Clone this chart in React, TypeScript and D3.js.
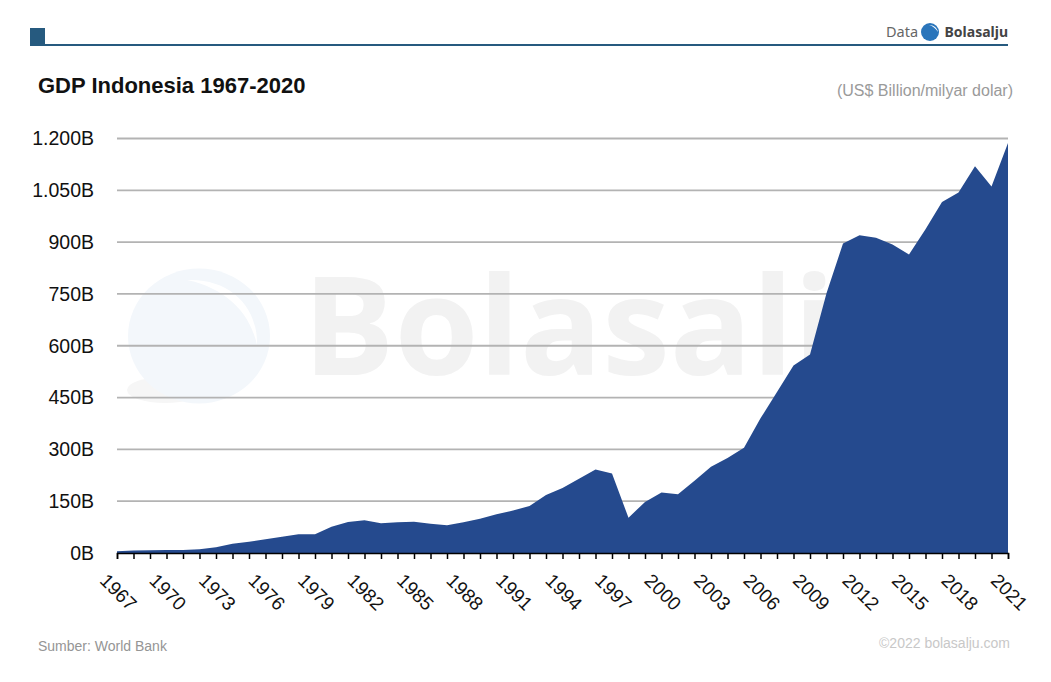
import * as d3 from "d3";
import * as React from "react";
import { useEffect, useRef } from "react";

const years = d3.range(1967, 2022);
const gdpValues = [
  5, 7, 8, 9, 9, 10.6, 16.4, 27, 32.8, 39.5, 47, 54, 54, 76, 90, 95, 86, 89, 90.6, 84.8,
  80, 88.7, 99, 112, 123, 136, 168, 188, 215, 242, 230, 102, 148, 175, 170, 209, 250, 275,
  304.5, 390, 466, 543, 574.6, 752, 896, 920, 913, 893, 864, 937, 1016, 1044, 1120, 1061, 1187,
];
const yTickValues = [0, 150, 300, 450, 600, 750, 900, 1050, 1200];
const yTickLabels = ["0B", "150B", "300B", "450B", "600B", "750B", "900B", "1.050B", "1.200B"];

const WIDTH = 1051;
const HEIGHT = 682;
const margin = { top: 138.5, right: 43, bottom: 129, left: 117 };
const SANS = "'Liberation Sans', Arial, sans-serif";

export default function App() {
  const svgRef = useRef<SVGSVGElement | null>(null);

  useEffect(() => {
    const svg = d3.select(svgRef.current).html("");

    const xScale = d3.scaleLinear()
      .domain([1967, 2021])
      .range([margin.left, WIDTH - margin.right]);
    const yScale = d3.scaleLinear()
      .domain([0, 1200])
      .range([HEIGHT - margin.bottom, margin.top]);

    // header bar
    svg.append("rect").attr("x", 30).attr("y", 28).attr("width", 15).attr("height", 18).attr("fill", "#265a7f");
    svg.append("rect").attr("x", 30).attr("y", 44).attr("width", 978).attr("height", 2).attr("fill", "#265a7f");

    // watermark
    const mark = svg.append("g");
    mark.append("ellipse").attr("cx", 165).attr("cy", 390).attr("rx", 38).attr("ry", 13).attr("fill", "#f6f6f6");
    mark.append("ellipse").attr("cx", 199).attr("cy", 336).attr("rx", 71).attr("ry", 67.5).attr("fill", "#f3f7fb");
    mark.append("path")
      .attr("d", "M187 280 C228 278 258 305 257 345 C250 312 225 288 187 280 Z")
      .attr("fill", "#ffffff");
    mark.append("text")
      .attr("x", 303).attr("y", 375)
      .attr("font-family", "'Open Sans', sans-serif")
      .attr("font-weight", 700)
      .attr("font-size", 136)
      .attr("fill", "#f2f2f2")
      .text("Bolasalju");

    // grid
    svg.append("g")
      .selectAll("line")
      .data(yTickValues.slice(1))
      .enter()
      .append("line")
      .attr("x1", margin.left)
      .attr("x2", WIDTH - margin.right)
      .attr("y1", d => yScale(d))
      .attr("y2", d => yScale(d))
      .attr("stroke", "#b3b3b3")
      .attr("stroke-width", 1.8);

    const area = d3.area<number>()
      .x((_, i) => xScale(years[i]))
      .y0(yScale(0))
      .y1(d => yScale(d));

    svg.append("path")
      .attr("d", area(gdpValues))
      .attr("fill", "#254a8e");

    const yAxis = svg.append("g")
      .attr("transform", `translate(${margin.left},0)`)
      .call(d3.axisLeft(yScale)
        .tickValues(yTickValues)
        .tickSize(0)
        .tickPadding(23)
        .tickFormat((_, i) => yTickLabels[i]));
    yAxis.select(".domain").remove();
    yAxis.selectAll("text")
      .attr("font-family", SANS)
      .attr("font-size", 19.5)
      .attr("fill", "#111");

    const xAxis = svg.append("g")
      .attr("transform", `translate(0,${yScale(0)})`)
      .call(d3.axisBottom(xScale)
        .tickValues(years)
        .tickSizeOuter(0)
        .tickSize(6)
        .tickFormat(d => ((+d - 1967) % 3 === 0 ? String(d) : "")));
    xAxis.select(".domain").attr("stroke", "#000").attr("stroke-width", 1.5);
    xAxis.selectAll(".tick line").attr("stroke", "#000").attr("stroke-width", 1.5);
    xAxis.selectAll("text")
      .attr("y", 0)
      .attr("dy", "0.35em")
      .attr("transform", "translate(1,39) rotate(45)")
      .attr("text-anchor", "middle")
      .attr("font-family", SANS)
      .attr("font-size", 19)
      .attr("fill", "#111");

    const addText = (label: string, x: number, y: number, size: number, fill: string,
      opts: { anchor?: string; weight?: number; family?: string } = {}) =>
      svg.append("text")
        .attr("x", x).attr("y", y)
        .attr("font-family", opts.family ?? SANS)
        .attr("font-size", size)
        .attr("font-weight", opts.weight ?? 400)
        .attr("text-anchor", opts.anchor ?? "start")
        .attr("fill", fill)
        .text(label);

    addText("GDP Indonesia 1967-2020", 38, 93, 22, "#111", { weight: 700 });
    addText("(US$ Billion/milyar dolar)", 1013, 96, 16, "#9a9a9a", { anchor: "end" });
    addText("Sumber: World Bank", 38, 651, 14, "#959595");
    addText("©2022 bolasalju.com", 1010, 648, 14, "#c8c8c8", { anchor: "end" });

    // small logo, top right
    addText("Data", 886, 37, 14.5, "#666", { family: "'Noto Sans', sans-serif" });
    svg.append("circle").attr("cx", 930).attr("cy", 32).attr("r", 9).attr("fill", "#2a75bb");
    svg.append("path")
      .attr("d", "M929 25 C934 25 937 28 938 32 C936 29 933 26 929 25 Z")
      .attr("fill", "#ffffff");
    addText("Bolasalju", 1008, 37, 14, "#444", { anchor: "end", weight: 700, family: "'Noto Sans', sans-serif" });
  }, []);

  return (
    <svg
      ref={svgRef}
      width={WIDTH}
      height={HEIGHT}
      style={{ position: "absolute", left: 0, top: 0, background: "#fff" }}
    />
  );
}
